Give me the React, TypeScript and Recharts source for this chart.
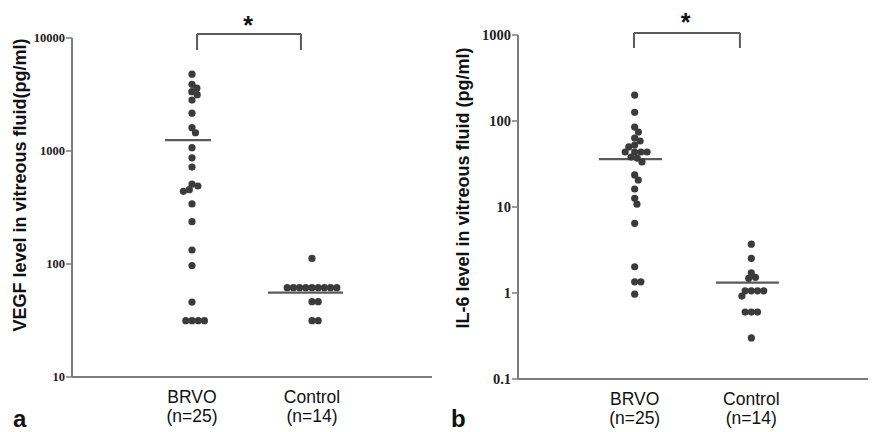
import React from 'react';
import { ScatterChart, Scatter, XAxis, YAxis, ReferenceLine, ReferenceDot } from 'recharts';

const categories = ['BRVO', 'Control'];
const groupSizes = ['(n=25)', '(n=14)'];

const vegfBRVO = [4780, 3890, 3600, 3350, 3150, 2820, 2160, 1610, 1450, 1070, 870, 720, 510, 490, 455, 440, 340, 237, 133, 97, 46, 31.5, 31.5, 31.5, 31.5];
const vegfControl = [112, 61.7, 61.7, 61.7, 61.7, 61.7, 61.7, 61.7, 61.7, 61.7, 46.4, 46.4, 31.5, 31.5];
const vegfLevels = [1250, 55.7];
const vegfTicks = [10, 100, 1000, 10000];

const il6BRVO = [200, 126, 85, 74.5, 63.4, 58.5, 52.6, 49.9, 43.6, 43.6, 43.6, 43.6, 38.1, 37.1, 33.4, 23.6, 20.6, 16.2, 12.6, 10.8, 6.46, 2.02, 1.35, 1.35, 0.97];
const il6Control = [3.7, 2.53, 1.72, 1.52, 1.48, 1.06, 1.06, 1.06, 1.06, 0.92, 0.6, 0.6, 0.6, 0.3];
const il6Levels = [36, 1.32];
const il6Ticks = [0.1, 1, 10, 100, 1000];

const DOT = '#3b3b3b';
const AXIS = '#7d7d7d';
const LINE = '#5a5a5a';

// simple beeswarm: offsets points horizontally so equal/near values sit side by side
function swarm(values: number[], center: number, unitPx: number, decadePx: number, d = 6.2) {
  const placed: { x: number; y: number }[] = [];
  const out: { x: number; y: number }[] = [];
  const sorted = [...values].sort((a, b) => b - a);
  for (const v of sorted) {
    const y = Math.log10(v) * decadePx;
    const intervals: [number, number][] = [];
    for (const p of placed) {
      const dy = Math.abs(p.y - y);
      if (dy < d) {
        const w = Math.sqrt(d * d - dy * dy);
        intervals.push([p.x - w, p.x + w]);
      }
    }
    const cands = [0];
    intervals.forEach(([a, b]) => { cands.push(a, b); });
    cands.sort((a, b) => Math.abs(a) - Math.abs(b) || b - a);
    let chosen = 0;
    for (const c of cands) {
      if (intervals.every(([a, b]) => c <= a + 1e-6 || c >= b - 1e-6)) { chosen = c; break; }
    }
    placed.push({ x: chosen, y });
    out.push({ x: center + chosen / unitPx, y: v });
  }
  return out;
}

const dotShape = (p: any) => <circle cx={p.cx} cy={p.cy} r={3.6} fill={DOT} />;

const XTick = (props: any) => {
  const { x, y, payload } = props;
  const i = Math.round(payload.value) - 1;
  return (
    <g>
      <text x={x} y={y + 26} textAnchor="middle" fontFamily="Liberation Sans, Arial, sans-serif" fontSize={17.5} fill="#111">{categories[i]}</text>
      <text x={x} y={y + 45} textAnchor="middle" fontFamily="Liberation Sans, Arial, sans-serif" fontSize={17.5} fill="#111">{groupSizes[i]}</text>
    </g>
  );
};

const makeYTick = (size: number) => (props: any) => {
  const { x, y, payload } = props;
  return (
    <text x={x} y={y} dy={size * 0.34} textAnchor="end" fontFamily="Liberation Serif, Times New Roman, serif" fontWeight="bold" fontSize={size} fill="#222">{String(payload.value)}</text>
  );
};

const starLabel = (props: any) => {
  const vb = props.viewBox || {};
  const cx = vb.x + (vb.width || 0) / 2;
  const cy = vb.y + (vb.height || 0) / 2;
  return (
    <text x={cx} y={cy + 13} textAnchor="middle" fontFamily="Liberation Sans, Arial, sans-serif" fontWeight="bold" fontSize={25} fill="#111">*</text>
  );
};

function Panel(props: {
  width: number; yAxisWidth: number; top: number; bottom: number; right: number; tickFont: number;
  brvo: number[]; control: number[]; levels: number[]; ticks: number[]; domain: [number, number];
  medianSpans: [number, number][]; bracket: [number, number, number, number]; star: [number, number];
}) {
  const { width, yAxisWidth, top, bottom, right, tickFont, brvo, control, levels, ticks, domain, medianSpans, bracket, star } = props;
  const plotW = width - yAxisWidth - right;
  const plotH = 432 - top - bottom;
  const unitPx = plotW / 3;
  const decadePx = plotH / Math.log10(domain[1] / domain[0]);
  const brvoPts = swarm(brvo, 1, unitPx, decadePx);
  const ctrlPts = swarm(control, 2, unitPx, decadePx);
  const [bx1, bx2, byTop, byBot] = bracket;
  const YTick = makeYTick(tickFont);
  return (
    <ScatterChart width={width} height={432} margin={{ top, right, bottom: 0, left: 0 }}>
      <XAxis type="number" dataKey="x" domain={[0, 3]} ticks={[1, 2]} allowDataOverflow
        height={bottom} axisLine={{ stroke: AXIS, strokeWidth: 2 }} tickLine={false} tickSize={0} tickMargin={0}
        tick={<XTick />} interval={0} />
      <YAxis type="number" dataKey="y" scale="log" domain={domain} ticks={ticks} allowDataOverflow
        width={yAxisWidth} axisLine={{ stroke: AXIS, strokeWidth: 2 }} tickLine={{ stroke: AXIS, strokeWidth: 1.5 }}
        tickSize={6} tickMargin={1} tick={<YTick />} interval={0} />
      <Scatter data={brvoPts} shape={dotShape} isAnimationActive={false} />
      <Scatter data={ctrlPts} shape={dotShape} isAnimationActive={false} />
      <ReferenceLine segment={[{ x: medianSpans[0][0], y: levels[0] }, { x: medianSpans[0][1], y: levels[0] }]} stroke={LINE} strokeWidth={2.2} ifOverflow="visible" />
      <ReferenceLine segment={[{ x: medianSpans[1][0], y: levels[1] }, { x: medianSpans[1][1], y: levels[1] }]} stroke={LINE} strokeWidth={2.2} ifOverflow="visible" />
      <ReferenceLine segment={[{ x: bx1, y: byTop }, { x: bx2, y: byTop }]} stroke={LINE} strokeWidth={2} ifOverflow="visible" />
      <ReferenceLine segment={[{ x: bx1, y: byTop }, { x: bx1, y: byBot }]} stroke={LINE} strokeWidth={2} ifOverflow="visible" />
      <ReferenceLine segment={[{ x: bx2, y: byTop }, { x: bx2, y: byBot }]} stroke={LINE} strokeWidth={2} ifOverflow="visible" />
      <ReferenceDot x={star[0]} y={star[1]} r={1} fill="none" stroke="none" ifOverflow="visible" label={starLabel} />
    </ScatterChart>
  );
}

export default function App() {
  const labelFont = 'Liberation Sans, Arial, sans-serif';
  return (
    <div style={{ position: 'absolute', left: 0, top: 0, width: 875, height: 432, background: '#fff', overflow: 'hidden' }}>
      <div style={{ position: 'absolute', left: 0, top: 0 }}>
        <Panel width={440} yAxisWidth={72} top={38} bottom={55} right={8} tickFont={12.5}
          brvo={vegfBRVO} control={vegfControl} levels={vegfLevels} ticks={vegfTicks} domain={[10, 10000]}
          medianSpans={[[0.775, 1.158], [1.633, 2.258]]}
          bracket={[1.042, 1.908, 10850, 7830]} star={[1.467, 14140]} />
      </div>
      <div style={{ position: 'absolute', left: 440, top: 0 }}>
        <Panel width={435} yAxisWidth={78} top={35} bottom={53} right={7} tickFont={14.5}
          brvo={il6BRVO} control={il6Control} levels={il6Levels} ticks={il6Ticks} domain={[0.1, 1000]}
          medianSpans={[[0.694, 1.234], [1.697, 2.236]]}
          bracket={[0.994, 1.902, 1055, 706]} star={[1.436, 1576]} />
      </div>
      <svg width={875} height={432} style={{ position: 'absolute', left: 0, top: 0, pointerEvents: 'none' }}>
        <text transform="translate(20,185) rotate(-90)" textAnchor="middle" dominantBaseline="central" fontFamily={labelFont} fontWeight="bold" fontSize={18} fill="#111">VEGF level in vitreous fluid(pg/ml)</text>
        <text transform="translate(463,188) rotate(-90)" textAnchor="middle" dominantBaseline="central" fontFamily={labelFont} fontWeight="bold" fontSize={18} fill="#111">IL-6 level in vitreous fluid (pg/ml)</text>
        <text x={13} y={427} fontFamily={labelFont} fontWeight="bold" fontSize={24} fill="#111">a</text>
        <text x={451} y={427} fontFamily={labelFont} fontWeight="bold" fontSize={24} fill="#111">b</text>
      </svg>
    </div>
  );
}
